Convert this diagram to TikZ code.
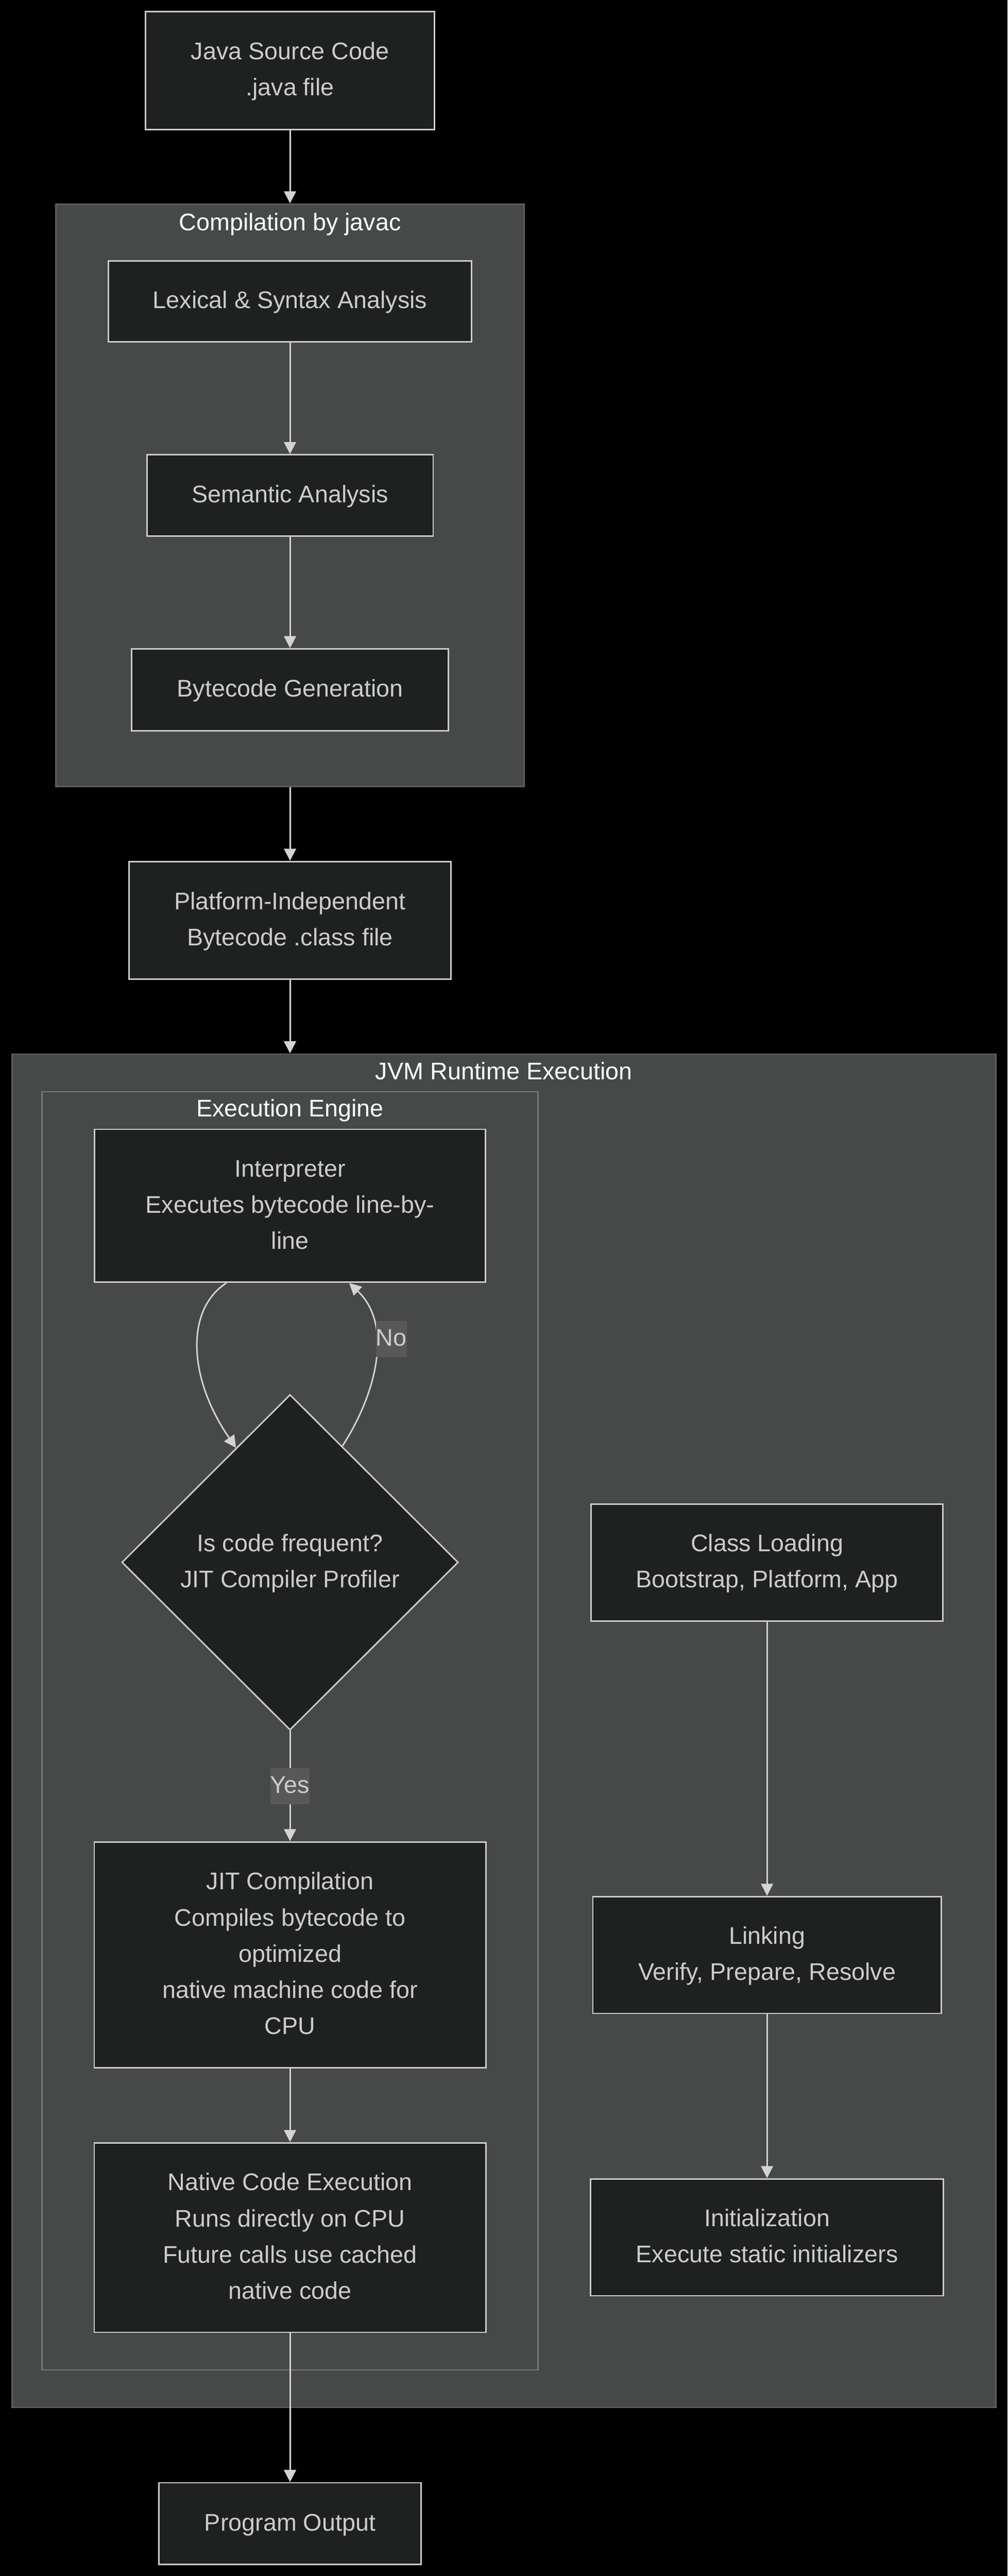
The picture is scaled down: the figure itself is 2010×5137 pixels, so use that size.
\documentclass[tikz,border=0pt]{standalone}
\usepackage{fontspec}
\setmainfont{Liberation Sans}
\usepackage{tikz}
\usetikzlibrary{arrows.meta}
\usetikzlibrary{shapes.geometric}
\usetikzlibrary{calc}
\tikzset{>={Triangle[length=24pt,width=24pt]}}

\definecolor{clusterbg}{HTML}{474848}
\definecolor{outerline}{HTML}{5E5E5E}
\definecolor{innerline}{HTML}{787878}
\definecolor{nodebg}{HTML}{1F2020}
\definecolor{nodeline}{HTML}{CCCCCC}
\definecolor{nodetext}{HTML}{CCCCCC}
\definecolor{flowline}{HTML}{D3D3D3}
\definecolor{titletext}{HTML}{F9FFFE}
\definecolor{labelbg}{HTML}{585858}

% one text line of 72pt, baseline 50.4pt below its top
\newcommand\linestrut{\rule[-21.6pt]{0pt}{72pt}}
\newcommand\nl{\\\linestrut}

\tikzset{
  box/.style={draw=nodeline, fill=nodebg, line width=3pt, text=nodetext,
    align=center, inner sep=0pt},
  cluster/.style={draw=outerline, fill=clusterbg, line width=3pt, inner sep=0pt},
  title/.style={text=titletext, inner sep=0pt, execute at begin node=\linestrut},
  elabel/.style={fill=labelbg, text=nodetext, inner sep=0pt,
    execute at begin node=\linestrut},
  flow/.style={draw=flowline, line width=3pt}
}

\begin{document}
\begin{tikzpicture}[x=1pt, y=-1pt, font=\fontsize{48}{72}\selectfont]
    \fill[black] (0,0) rectangle (2010,5137);
    \useasboundingbox (0,0) rectangle (2010,5137);

    % groups
    \node[cluster, minimum width=934pt, minimum height=1161pt] (comp) at (578.5,987.5) {};
    \node[title] at ($(comp.north)+(0,40)$) {Compilation by javac};
    \node[cluster, minimum width=1962pt, minimum height=2699pt] (jvm) at (1005,3451.5) {};
    \node[title] at ($(jvm.north)+(0,38)$) {JVM Runtime Execution};
    \node[cluster, draw=innerline, minimum width=990pt, minimum height=2549pt] (engine) at (578.5,3451.5) {};
    \node[title] at ($(engine.north)+(0,37)$) {Execution Engine};

    % main column
    \node[box, minimum width=576pt, minimum height=235pt] (java) at (578.5,140.5) {\linestrut Java Source Code\nl .java file};
    \node[box, minimum width=725pt, minimum height=162pt] (lex) at (578.5,601) {\linestrut Lexical \& Syntax Analysis};
    \node[box, minimum width=571pt, minimum height=162pt] (sem) at (578.5,988) {\linestrut Semantic Analysis};
    \node[box, minimum width=632pt, minimum height=163pt] (gen) at (578.5,1375.5) {\linestrut Bytecode Generation};
    \node[box, minimum width=642pt, minimum height=235pt] (plat) at (578.5,1835.5) {\linestrut Platform-Independent\nl Bytecode .class file};
    \node[box, minimum width=780pt, minimum height=305pt] (interp) at (578.5,2404.5) {\linestrut Interpreter\nl Executes bytecode line-by-\nl line};
    \node[box, diamond, aspect=1, minimum width=671pt, minimum height=669pt] (freq) at (578.5,3115.5) {\linestrut Is code frequent?\nl JIT Compiler Profiler};
    \node[box, minimum width=781pt, minimum height=450pt] (jit) at (578.5,3898) {\linestrut JIT Compilation\nl Compiles bytecode to\nl optimized\nl native machine code for\nl CPU};
    \node[box, minimum width=781pt, minimum height=378pt] (native) at (578.5,4462) {\linestrut Native Code Execution\nl Runs directly on CPU\nl Future calls use cached\nl native code};
    \node[box, minimum width=523pt, minimum height=163pt] (out) at (578.5,5032.5) {\linestrut Program Output};

    % class loader column
    \node[box, minimum width=702pt, minimum height=234pt] (load) at (1530,3116) {\linestrut Class Loading\nl Bootstrap, Platform, App};
    \node[box, minimum width=695pt, minimum height=233pt] (link) at (1530,3898.5) {\linestrut Linking\nl Verify, Prepare, Resolve};
    \node[box, minimum width=704pt, minimum height=233pt] (init) at (1530,4461.5) {\linestrut Initialization\nl Execute static initializers};

    \begin{scope}[flow, ->]
      \draw (java.south) -- (comp.north);
      \draw (lex.south) -- (sem.north);
      \draw (sem.south) -- (gen.north);
      \draw (comp.south) -- (plat.north);
      \draw (plat.south) -- (plat.south |- jvm.north);
      \draw (freq.south) -- node[midway, elabel] {Yes} (jit.north);
      \draw (jit.south) -- (native.north);
      \draw (native.south) -- (out.north);
      \draw (load.south) -- (link.north);
      \draw (link.south) -- (init.north);
    \end{scope}

    % profiler loop
    \coordinate (a1) at ($(interp.south)+(-127,0)$);
    \coordinate (a2) at ($(freq.north)!0.32!(freq.west)$);
    \coordinate (b1) at ($(freq.north)!0.31!(freq.east)$);
    \coordinate (b2) at ($(interp.south)+(118,0)$);
    \draw[flow, ->] (a1) .. controls +(-82,53) and +(-96,-139) .. (a2);
    \draw[flow, ->] (b1) .. controls +(68,-105) and +(88,83) .. (b2);
    \node[elabel] (no) at (780.5,2670) {No};
\end{tikzpicture}
\end{document}
